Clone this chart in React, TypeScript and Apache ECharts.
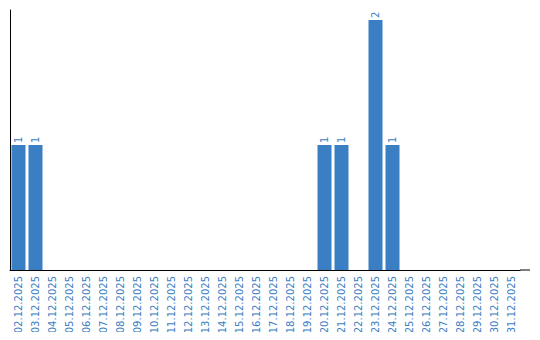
import React, { useEffect, useRef } from "react";
import * as echarts from "echarts";

const categories = [
  "02.12.2025", "03.12.2025", "04.12.2025", "05.12.2025", "06.12.2025",
  "07.12.2025", "08.12.2025", "09.12.2025", "10.12.2025", "11.12.2025",
  "12.12.2025", "13.12.2025", "14.12.2025", "15.12.2025", "16.12.2025",
  "17.12.2025", "18.12.2025", "19.12.2025", "20.12.2025", "21.12.2025",
  "22.12.2025", "23.12.2025", "24.12.2025", "25.12.2025", "26.12.2025",
  "27.12.2025", "28.12.2025", "29.12.2025", "30.12.2025", "31.12.2025",
];
const values = [
  1, 1, 0, 0, 0, 0, 0, 0, 0, 0,
  0, 0, 0, 0, 0, 0, 0, 0, 1, 1,
  0, 2, 1, 0, 0, 0, 0, 0, 0, 0,
];

const BLUE = "#3a7ec3";

export default function App() {
  const ref = useRef<HTMLDivElement>(null);
  useEffect(() => {
    const chart = echarts.init(ref.current!, null, { renderer: "svg" });
    chart.setOption({
      animation: false,
      grid: { left: 10, top: 10, width: 510, height: 260 },
      xAxis: {
        type: "category",
        data: categories,
        axisLine: { lineStyle: { color: "#000", width: 1 } },
        axisTick: { show: false },
        axisLabel: {
          rotate: 90,
          interval: 0,
          color: BLUE,
          fontFamily: "DejaVu Sans",
          fontSize: 10,
          margin: 6,
        },
      },
      yAxis: {
        type: "value",
        min: 0,
        max: 2.08,
        axisLine: { show: true, lineStyle: { color: "#000", width: 1 } },
        axisTick: { show: false },
        axisLabel: { show: false },
        splitLine: { show: false },
      },
      graphic: [
        {
          type: "line",
          shape: { x1: 520, y1: 270, x2: 530, y2: 270 },
          style: { stroke: "#000", lineWidth: 1 },
        },
      ],
      series: [
        {
          type: "bar",
          data: values.map((v) => (v === 0 ? null : v)),
          barWidth: 14,
          itemStyle: { color: BLUE },
          label: {
            show: true,
            position: "top",
            rotate: 90,
            align: "left",
            verticalAlign: "middle",
            distance: 2,
            color: BLUE,
            fontFamily: "DejaVu Sans",
            fontSize: 10,
          },
        },
      ],
    });
    return () => chart.dispose();
  }, []);
  return <div ref={ref} style={{ width: 540, height: 340, margin: -8 }} />;
}
